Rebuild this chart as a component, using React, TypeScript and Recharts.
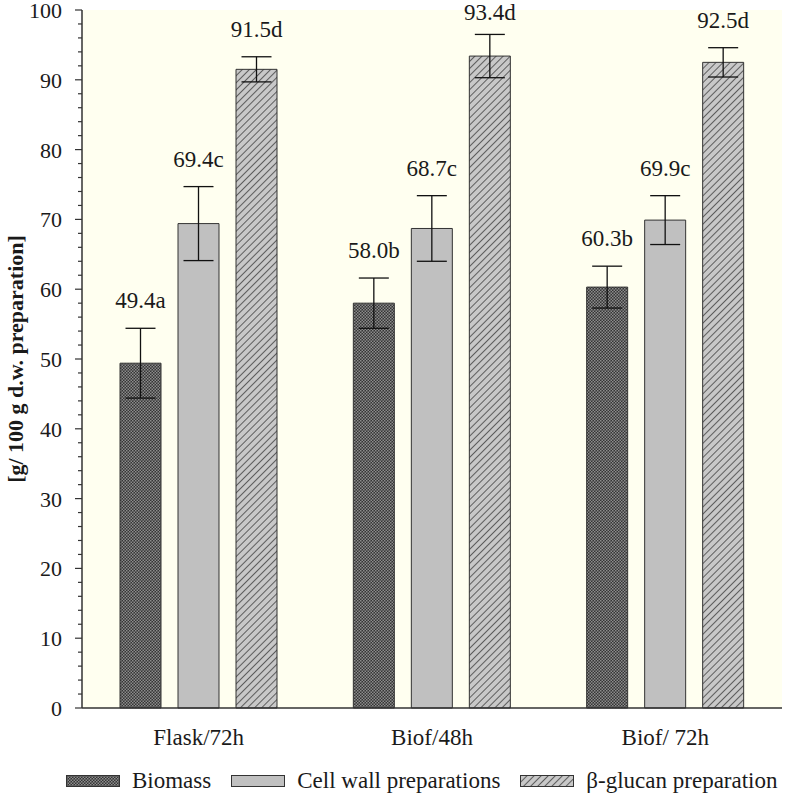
import React from 'react'
import {
  BarChart, Bar, XAxis, YAxis, ErrorBar, LabelList, Legend, CartesianGrid, Label,
} from 'recharts'

const CATEGORIES = ['Flask/72h', 'Biof/48h', 'Biof/ 72h']

const BIOMASS = [49.4, 58.0, 60.3]
const BIOMASS_ERR = [5.0, 3.6, 3.0]
const BIOMASS_LETTERS = ['a', 'b', 'b']

const CELL_WALL = [69.4, 68.7, 69.9]
const CELL_WALL_ERR = [5.3, 4.7, 3.5]
const CELL_WALL_LETTERS = ['c', 'c', 'c']

const GLUCAN = [91.5, 93.4, 92.5]
const GLUCAN_ERR = [1.8, 3.1, 2.1]
const GLUCAN_LETTERS = ['d', 'd', 'd']

const Y_TICKS = [
  0, 2, 4, 6, 8, 10, 12, 14, 16, 18, 20, 22, 24, 26, 28, 30, 32, 34, 36, 38, 40,
  42, 44, 46, 48, 50, 52, 54, 56, 58, 60, 62, 64, 66, 68, 70, 72, 74, 76, 78, 80,
  82, 84, 86, 88, 90, 92, 94, 96, 98, 100,
]

const SERIES = [
  { key: 'biomass', name: 'Biomass', fill: 'url(#patBiomass)', letters: BIOMASS_LETTERS },
  { key: 'cellWall', name: 'Cell wall preparations', fill: '#c0c0c0', letters: CELL_WALL_LETTERS },
  { key: 'glucan', name: 'β-glucan preparation', fill: 'url(#patGlucan)', letters: GLUCAN_LETTERS },
]

const data = CATEGORIES.map((c, i) => ({
  name: c,
  biomass: BIOMASS[i], biomassErr: BIOMASS_ERR[i],
  cellWall: CELL_WALL[i], cellWallErr: CELL_WALL_ERR[i],
  glucan: GLUCAN[i], glucanErr: GLUCAN_ERR[i],
}))

const FONT = "'Liberation Serif', 'Times New Roman', serif"
const AXIS = '#333'
const TXT = '#1a1a1a'

const YTick = (props: any) => {
  const { x, y, payload } = props
  const major = payload.value % 10 === 0
  return (
    <g>
      <line x1={x - (major ? 7 : 4)} x2={x} y1={y} y2={y} stroke={AXIS} strokeWidth={1.2} />
      {major && (
        <text x={x - 20} y={y} dy={8} textAnchor="end" style={{ fontFamily: FONT, fontSize: 22 }} fill={TXT}>
          {payload.value}
        </text>
      )}
    </g>
  )
}

// label sits above the error bar top; px per unit comes from the bar's own geometry
const makeLabel = (key: string, letters: string[]) => (props: any) => {
  const { x, y, width, height, value, index } = props
  const err = (data[index] as any)[key + 'Err']
  const errTop = y - (err * height) / value
  const base = Math.max(errTop - 20, 20)
  return (
    <text x={x + width / 2} y={base} textAnchor="middle" style={{ fontFamily: FONT, fontSize: 23 }} fill={TXT}>
      {value.toFixed(1) + letters[index]}
    </text>
  )
}

const LegendContent = () => (
  <div style={{ display: 'flex', alignItems: 'center', height: 28, paddingLeft: 66, fontFamily: FONT, fontSize: 23, color: TXT, whiteSpace: 'nowrap' }}>
    {SERIES.map(s => (
      <div key={s.key} style={{ display: 'flex', alignItems: 'center', marginRight: 20 }}>
        <svg width={54} height={12} style={{ marginRight: 12 }}>
          <rect x={0.5} y={0.5} width={53} height={11} fill={s.fill} stroke={AXIS} strokeWidth={1} />
        </svg>
        <span>{s.name}</span>
      </div>
    ))}
  </div>
)

export default function App() {
  return (
    <div style={{ position: 'absolute', left: 0, top: 0, width: 788, height: 802, background: '#fff' }}>
      <BarChart
        width={788}
        height={802}
        data={data}
        margin={{ top: 10, right: 6, left: 0, bottom: 7 }}
        barSize={41}
        barGap={17}
      >
        <defs>
          <pattern id="patBiomass" width={3} height={3} patternUnits="userSpaceOnUse">
            <rect width={3} height={3} fill="#353535" />
            <rect width={1.5} height={1.5} fill="#8c8c8c" />
            <rect x={1.5} y={1.5} width={1.5} height={1.5} fill="#8c8c8c" />
          </pattern>
          <pattern id="patGlucan" width={5} height={5} patternUnits="userSpaceOnUse" patternTransform="rotate(45)">
            <rect width={5} height={5} fill="#c8c8c8" />
            <line x1={0} y1={0} x2={0} y2={5} stroke="#222" strokeWidth={1.3} />
          </pattern>
        </defs>
        <CartesianGrid horizontal={false} vertical={false} fill="#fffff0" />
        <XAxis
          dataKey="name"
          axisLine={{ stroke: AXIS, strokeWidth: 1.5 }}
          tickLine={false}
          tickSize={0}
          tickMargin={21}
          height={59}
          tick={{ fontFamily: FONT, fontSize: 23, fill: TXT }}
        />
        <YAxis
          width={82}
          domain={[0, 100]}
          ticks={Y_TICKS}
          interval={0}
          tickSize={0}
          tickMargin={0}
          tickLine={false}
          axisLine={{ stroke: AXIS, strokeWidth: 1.5 }}
          tick={<YTick />}
        >
          <Label
            content={(p: any) => {
              const vb = p.viewBox
              const cy = vb.y + vb.height / 2
              return (
                <text x={23} y={cy} transform={`rotate(-90, 23, ${cy})`} textAnchor="middle"
                  style={{ fontFamily: FONT, fontSize: 22, fontWeight: 'bold' }} fill={TXT}>
                  [g/ 100 g d.w. preparation]
                </text>
              )
            }}
          />
        </YAxis>
        <Legend
          verticalAlign="bottom"
          content={<LegendContent />}
          wrapperStyle={{ left: 0, width: 788 }}
        />
        {SERIES.map(s => (
          <Bar key={s.key} dataKey={s.key} name={s.name} fill={s.fill} stroke={AXIS} strokeWidth={1} isAnimationActive={false}>
            <ErrorBar dataKey={s.key + 'Err'} width={15} stroke="#111" strokeWidth={1.3} direction="y" />
            <LabelList dataKey={s.key} content={makeLabel(s.key, s.letters)} />
          </Bar>
        ))}
      </BarChart>
    </div>
  )
}
